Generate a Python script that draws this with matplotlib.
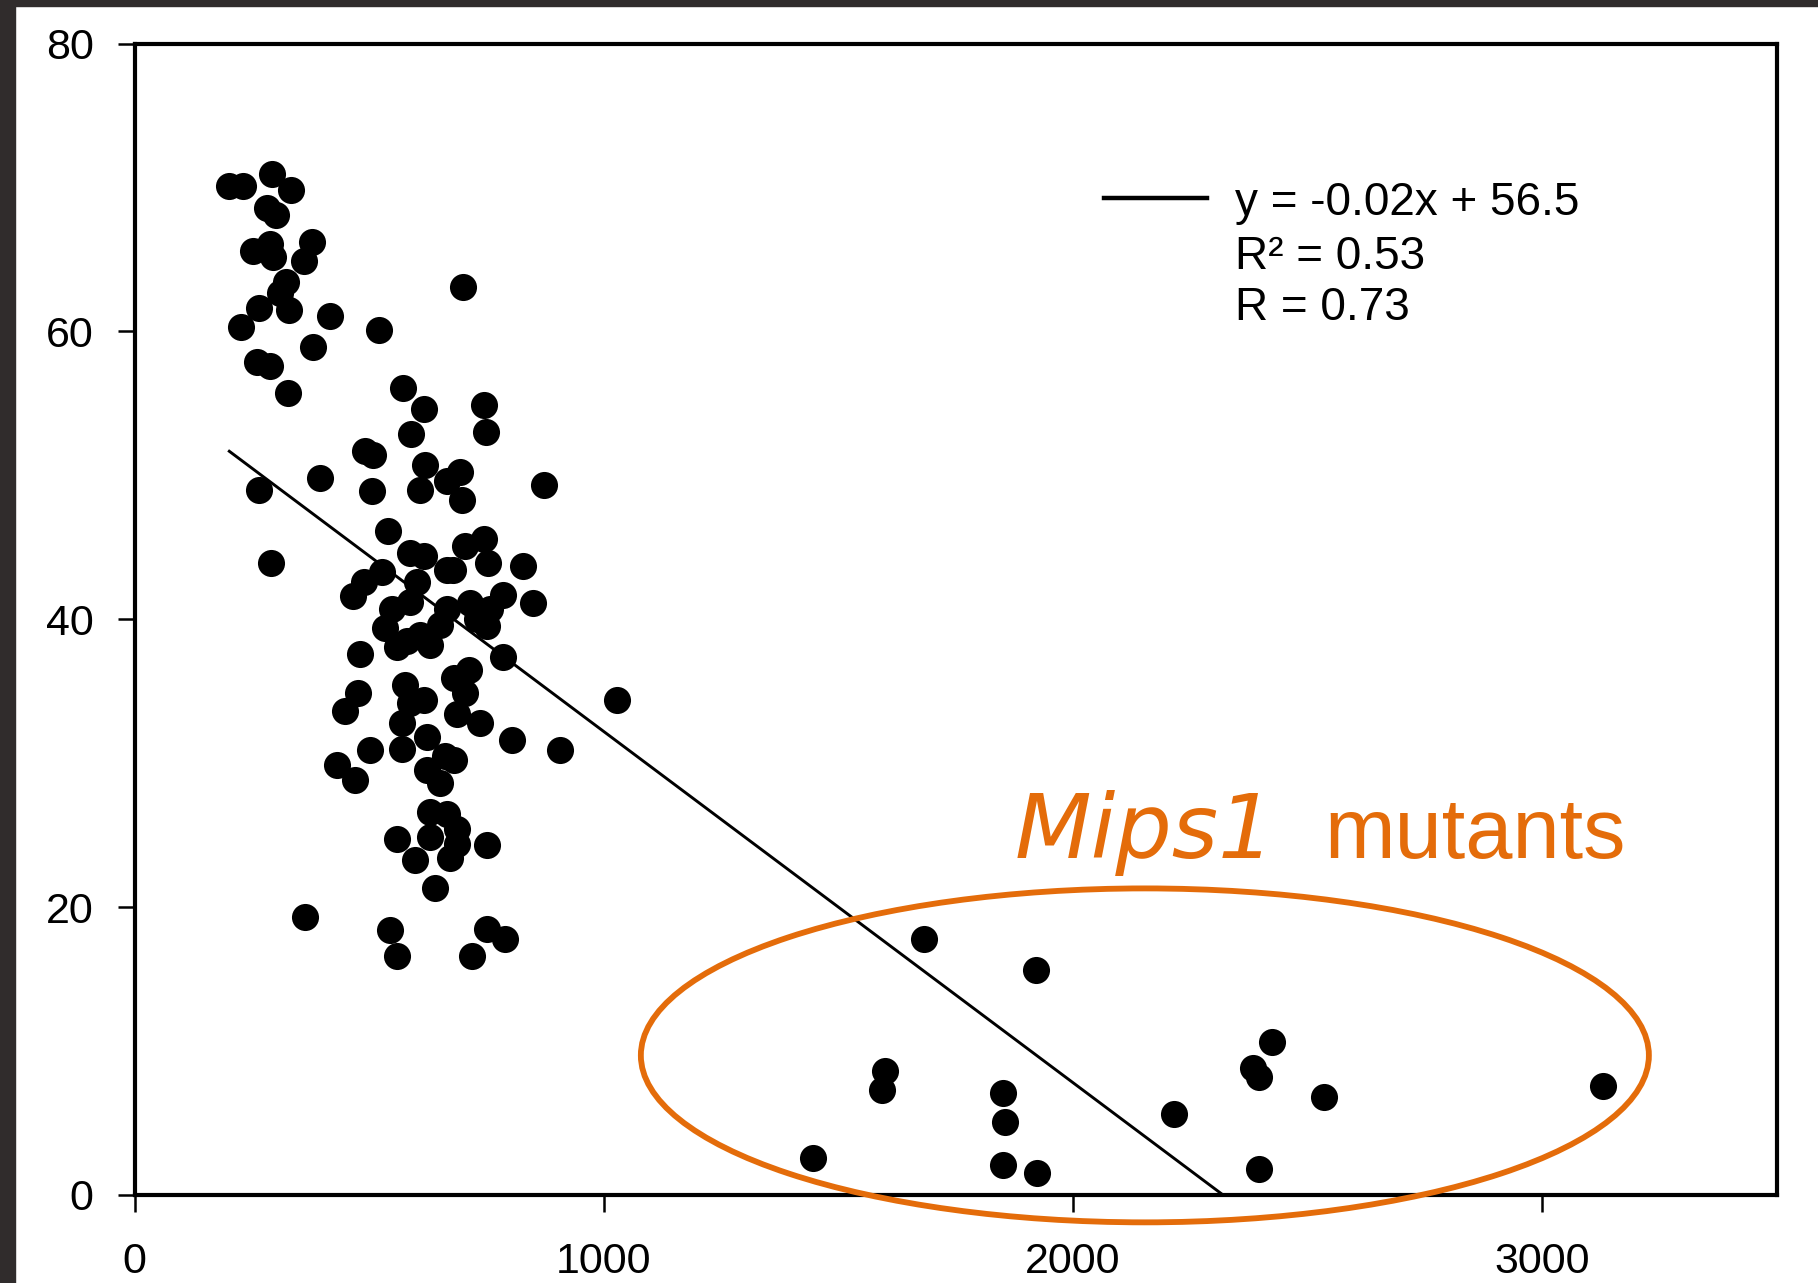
import numpy as np
import matplotlib.pyplot as plt
from matplotlib.patches import Ellipse, Rectangle
from matplotlib.lines import Line2D

plt.rcParams['font.family'] = ['Liberation Sans', 'DejaVu Sans']

# main population
main_x = [202, 232, 292, 333, 282, 302, 253, 289, 295, 378, 361, 323, 310, 266, 330, 226,
          417, 520, 381, 262, 289, 328,
          701, 572, 617, 589, 744, 749, 491, 508, 395, 266, 506, 619, 609, 694, 666, 698,
          872, 291, 541, 587, 617, 705, 744, 754, 828, 666, 679, 602, 466, 488, 527,
          548, 587, 534, 559, 580, 630, 666, 651, 715, 786, 758, 751, 730, 850, 786, 481,
          609, 577, 587, 616, 570, 623, 570, 680, 712, 705, 687, 737, 804, 907, 477, 449,
          502, 431, 470, 662, 623, 651, 680,
          630, 666, 687, 687, 630, 560, 598, 673, 751, 641, 364, 545, 559, 751, 790, 719, 1028]
main_y = [70.1, 70.1, 70.9, 69.8, 68.6, 68.1, 65.6, 66.1, 65.2, 66.2, 64.9, 63.4, 62.7, 61.6, 61.5, 60.3,
          61.1, 60.1, 58.9, 57.9, 57.6, 55.7,
          63.1, 56.1, 54.6, 52.9, 54.9, 53.0, 51.7, 51.4, 49.8, 49.0, 48.9, 50.7, 49.0, 50.2, 49.6, 48.3,
          49.3, 43.9, 46.1, 44.6, 44.4, 45.1, 45.6, 43.9, 43.7, 43.4, 43.4, 42.6, 41.6, 42.6, 43.3,
          40.7, 41.2, 39.4, 38.1, 38.5, 38.2, 40.7, 39.6, 41.1, 41.7, 40.7, 39.5, 40.0, 41.1, 37.4, 37.6,
          38.9, 35.4, 34.2, 34.4, 32.8, 31.8, 31.0, 35.9, 36.5, 34.9, 33.4, 32.8, 31.6, 30.9, 34.9, 33.6,
          30.9, 29.9, 28.8, 30.5, 29.5, 28.6, 30.2,
          26.6, 26.5, 25.4, 24.4, 24.9, 24.7, 23.3, 23.4, 24.3, 21.3, 19.3, 18.4, 16.6, 18.5, 17.8, 16.6, 34.4]

# Mips1 mutants
mips1_x = [1682, 1921, 2424, 2383, 2397, 1600, 1592, 1850, 1854, 2535, 3130, 2215, 1445, 1850, 1924, 2397]
mips1_y = [17.8, 15.6, 10.6, 8.8, 8.2, 8.6, 7.3, 7.1, 5.1, 6.8, 7.6, 5.6, 2.55, 2.1, 1.55, 1.8]

# regression line as drawn
fit_slope = -0.0244
fit_intercept = 56.6
fit_text = ['y = -0.02x + 56.5', 'R² = 0.53', 'R = 0.73']

x_ticks = [0, 1000, 2000, 3000]
y_ticks = [0, 20, 40, 60, 80]

orange = '#E46C0A'
W, H = 1818, 1283

fig = plt.figure(figsize=(W / 100, H / 100), dpi=100)
fig.patch.set_facecolor('white')
# dark slide frame on the left and top
fig.patches.append(Rectangle((0, 0), 15 / W, 1, transform=fig.transFigure, color='#302c2c', zorder=0))
fig.patches.append(Rectangle((0, 1 - 6 / H), 1, 6 / H, transform=fig.transFigure, color='#302c2c', zorder=0))

ax = fig.add_axes([134.5 / W, 1 - 1195 / H, (1777 - 134.5) / W, (1195 - 43.5) / H])

all_x = np.array(main_x + mips1_x)
all_y = np.array(main_y + mips1_y)
ax.plot(all_x, all_y, 'o', color='black', ms=19.5, mew=0, zorder=3)

xs = np.array([all_x.min(), all_x.max()])
ax.plot(xs, fit_intercept + fit_slope * xs, color='black', lw=2.1, zorder=2)

ax.add_patch(Ellipse((2153, 9.7), 2148, 23.2, fill=False, ec=orange, lw=4.2, clip_on=False, zorder=4))

ax.set_xlim(0, 3500)
ax.set_ylim(0, 80)
ax.set_xticks(x_ticks)
ax.set_yticks(y_ticks)
ax.tick_params(axis='x', direction='out', length=12.5, width=1.8, labelsize=31, pad=21)
ax.tick_params(axis='y', direction='out', length=12.5, width=1.8, labelsize=31, pad=17)
for s in ax.spines.values():
    s.set_linewidth(3.0)

# regression legend
fig.add_artist(Line2D([1104 / W, 1207 / W], [1 - 197.7 / H] * 2, color='black', lw=3.2))
for txt, yb in zip(fit_text, [215, 269, 320]):
    fig.text(1235 / W, 1 - yb / H, txt, fontsize=33, va='baseline', ha='left')

fig.text(1015 / W, 1 - 858 / H, 'Mips1', fontsize=64, style='italic', color=orange,
         va='baseline', family='DejaVu Sans')
fig.text(1324 / W, 1 - 858 / H, 'mutants', fontsize=61, color=orange, va='baseline')

fig.savefig('out.png', dpi=100)
